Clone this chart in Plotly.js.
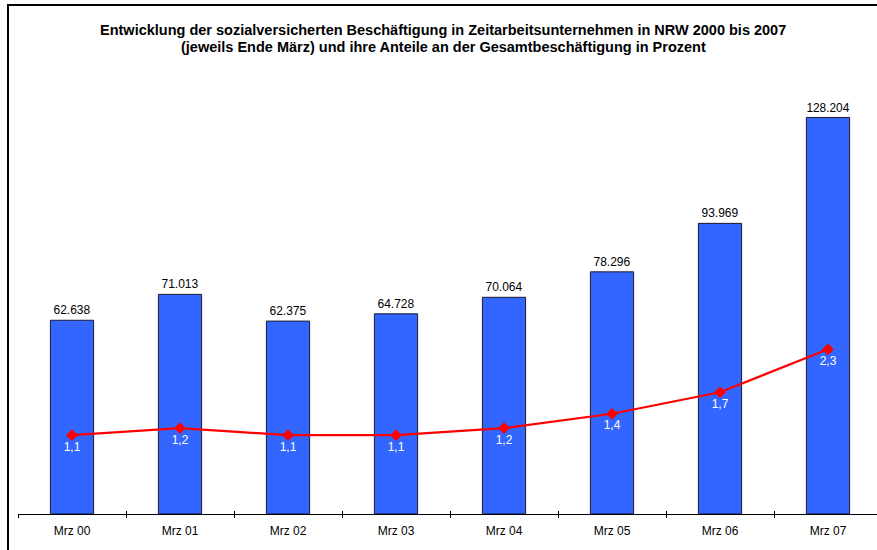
<!DOCTYPE html>
<html>
<head>
<meta charset="utf-8">
<script src="https://cdn.plot.ly/plotly-3.0.1.min.js"></script>
<style>
html,body{margin:0;padding:0;overflow:hidden;background:#fff;width:877px;height:550px;}
#wrap{position:absolute;left:0;top:0;width:877px;height:550px;overflow:hidden;}
#chart{position:absolute;left:0;top:0;width:882px;height:550px;}
#frame{position:absolute;left:7px;top:4px;width:900px;height:600px;border-top:2px solid #000;border-left:2px solid #000;pointer-events:none;}
</style>
</head>
<body>
<div id="wrap"><div id="chart"></div><div id="frame"></div></div>
<script>
var categories = ["Mrz 00","Mrz 01","Mrz 02","Mrz 03","Mrz 04","Mrz 05","Mrz 06","Mrz 07"];
var beschaeftigte = [62638, 71013, 62375, 64728, 70064, 78296, 93969, 128204];
var anteilProzent = [1.1, 1.2, 1.1, 1.1, 1.2, 1.4, 1.7, 2.3];
var titleLine1 = "Entwicklung der sozialversicherten Beschäftigung in Zeitarbeitsunternehmen in NRW 2000 bis 2007";
var titleLine2 = "(jeweils Ende März) und ihre Anteile an der Gesamtbeschäftigung in Prozent";

var FONT = "Liberation Sans, Arial, sans-serif";

var bars = {
  type: "bar",
  x: categories,
  y: beschaeftigte,
  xaxis: "x",
  yaxis: "y",
  width: 0.4,
  marker: {color: "#3366FF", line: {color: "#1a1a2e", width: 1}},
  texttemplate: "%{y:,}",
  textposition: "outside",
  textfont: {family: FONT, size: 12, color: "#000"},
  cliponaxis: false,
  hoverinfo: "skip"
};

var line = {
  type: "scatter",
  mode: "lines+markers+text",
  x: categories,
  y: anteilProzent,
  xaxis: "x2",
  yaxis: "y2",
  line: {color: "#FF0000", width: 2.2},
  marker: {symbol: "diamond", size: 9, color: "#FF0000"},
  texttemplate: "%{y:.1f}",
  textposition: "bottom center",
  textfont: {family: FONT, size: 12, color: "#FFFFFF"},
  cliponaxis: false,
  hoverinfo: "skip"
};

var layout = {
  width: 882,
  height: 550,
  separators: ",.",
  paper_bgcolor: "#fff",
  plot_bgcolor: "rgba(0,0,0,0)",
  margin: {l: 18, r: 0, t: 80.5, b: 36},
  showlegend: false,
  font: {family: FONT, size: 12, color: "#000"},
  xaxis: {
    type: "category",
    categoryorder: "array",
    categoryarray: categories,
    range: [-0.5, 7.5],
    showline: true, linecolor: "#000", linewidth: 1,
    ticks: "outside", ticklen: 3, tickcolor: "#000", tickwidth: 1,
    tickson: "boundaries",
    ticklabelstandoff: 6,
    showgrid: false, zeroline: false,
    tickfont: {family: FONT, size: 12, color: "#000"},
    fixedrange: true
  },
  xaxis2: {
    type: "category",
    categoryorder: "array",
    categoryarray: categories,
    range: [-0.5, 7.5],
    overlaying: "x",
    anchor: "y2",
    side: "bottom",
    showline: false,
    ticks: "inside", ticklen: 3, tickcolor: "#000", tickwidth: 1,
    tickson: "boundaries",
    showticklabels: false,
    showgrid: false, zeroline: false,
    fixedrange: true
  },
  yaxis: {
    range: [0, 140000],
    visible: false,
    showgrid: false, zeroline: false,
    fixedrange: true
  },
  yaxis2: {
    range: [0, 6.046],
    overlaying: "y",
    side: "right",
    visible: false,
    showgrid: false, zeroline: false,
    fixedrange: true
  },
  annotations: [
    {text: "<b>" + titleLine1 + "</b>", xref: "paper", yref: "paper", x: 0.492, y: 1.1188,
     xanchor: "center", yanchor: "middle", showarrow: false,
     font: {family: FONT, size: 14.5, color: "#000"}},
    {text: "<b>" + titleLine2 + "</b>", xref: "paper", yref: "paper", x: 0.492, y: 1.0796,
     xanchor: "center", yanchor: "middle", showarrow: false,
     font: {family: FONT, size: 14.5, color: "#000"}}
  ]
};

Plotly.newPlot("chart", [bars, line], layout, {displayModeBar: false, staticPlot: true});
</script>
</body>
</html>
